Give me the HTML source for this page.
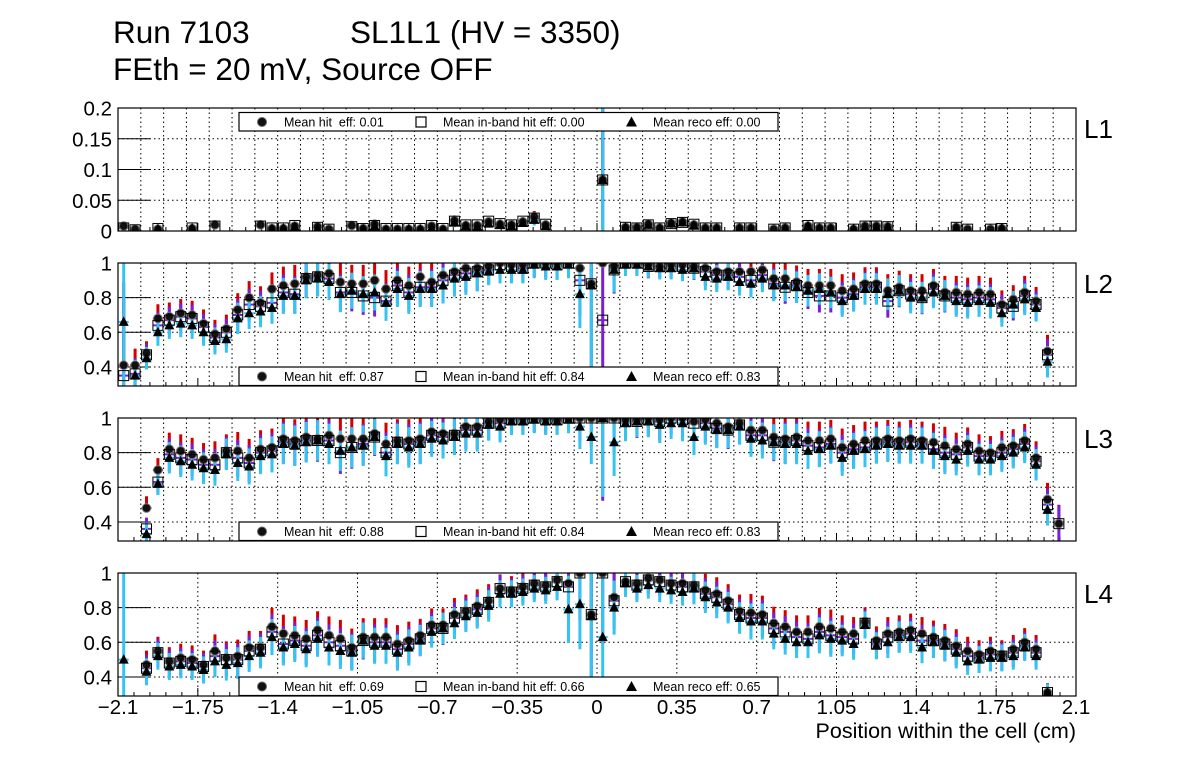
<!DOCTYPE html>
<html><head><meta charset="utf-8">
<style>
html,body{margin:0;padding:0;background:#fff;}
svg{display:block;font-family:"Liberation Sans",sans-serif;}
</style></head>
<body>
<svg id="chart" width="1196" height="772" viewBox="0 0 1196 772" xmlns="http://www.w3.org/2000/svg">
<text x="113" y="43" font-size="31.5">Run 7103</text>
<text x="350" y="43" font-size="31.5">SL1L1 (HV = 3350)</text>
<text x="113" y="80" font-size="31.5">FEth = 20 mV, Source OFF</text>
<text x="1076" y="738" font-size="21.5" text-anchor="end">Position within the cell (cm)</text>
</svg>
<script>
const xTickLabels=["\u22122.1","\u22121.75","\u22121.4","\u22121.05","\u22120.7","\u22120.35","0","0.35","0.7","1.05","1.4","1.75","2.1"];
const xTickValues=[-2.1,-1.75,-1.4,-1.05,-0.7,-0.35,0,0.35,0.7,1.05,1.4,1.75,2.1];
const binStart=-2.1, binWidth=0.05, nBins=84;
const panelNames=["L1","L2","L3","L4"];
const meanHit=["0.01","0.87","0.88","0.69"];
const meanBand=["0.00","0.84","0.84","0.66"];
const meanReco=["0.00","0.83","0.83","0.65"];
const yTicksL1=[0,0.05,0.1,0.15,0.2];
const yTickLabelsL1=["0","0.05","0.1","0.15","0.2"];
const yTicksL=[0.4,0.6,0.8,1];
const yTickLabelsL=["0.4","0.6","0.8","1"];
const N=null;
const l1Hit=[.008,.003,N,.003,N,N,.004,N,.01,N,N,N,.01,.004,.004,.008,N,.007,.003,N,.009,.004,.011,.003,.003,.003,.003,.008,.003,.017,.009,.009,.015,.011,.01,.015,.023,.01,N,N,N,N,.083,N,.006,.006,.011,.005,.013,.015,.01,.005,.005,N,.005,.005,N,.003,.005,N,.008,.005,.005,N,.003,.008,.008,.007,N,N,N,N,N,.006,.003,N,.003,.004,N,N,N,N,N,N];
const l1Band=[.005,.002,N,.004,N,N,.005,N,.008,N,N,N,.008,.005,.005,.009,N,.006,.003,N,.007,.004,.009,.004,.004,.004,.004,.009,.004,.016,.01,.01,.016,.012,.01,.016,.021,.011,N,N,N,N,.083,N,.006,.005,.01,.005,.012,.014,.011,.005,.005,N,.005,.005,N,.003,.005,N,.009,.005,.005,N,.003,.008,.008,.007,N,N,N,N,N,.006,.003,N,.003,.004,N,N,N,N,N,N];
const l1Reco=[N,N,N,.003,N,N,.004,N,N,N,N,N,N,.003,.004,.007,N,.004,N,N,N,.003,.008,.002,.002,.003,.003,.005,.002,.014,.008,.007,.012,.01,.008,.013,.018,.008,N,N,N,N,.083,N,.005,.004,.01,.004,.012,.014,.009,.004,.004,N,.004,.004,N,N,.004,N,.008,.004,.004,N,.003,.006,.006,.006,N,N,N,N,N,.005,N,N,N,.004,N,N,N,N,N,N];
const l1Err=[.004,.003,N,.003,N,N,.003,N,.004,N,N,N,.004,.003,.003,.004,N,.003,.003,N,.004,.003,.004,.003,.003,.003,.003,.004,.003,.006,.004,.004,.005,.004,.004,.005,.007,.004,N,N,N,N,.12,N,.003,.003,.004,.003,.005,.005,.004,.003,.003,N,.003,.003,N,.003,.003,N,.003,.003,.003,N,.003,.003,.003,.003,N,N,N,N,N,.003,.003,N,.003,.003,N,N,N,N,N,N];
const l2Hit=[.41,.41,.48,.68,.69,.71,.70,.65,.59,.62,.73,.80,.77,.85,.87,.88,.92,.93,.94,.89,.88,.88,.90,.85,.90,.87,.92,.89,.93,.95,.97,.97,.98,1,.99,.99,1,1,1,1,.97,.88,1,.98,1,1,.99,.98,.99,.99,.98,.97,.95,.95,.95,.95,.96,.91,.91,.89,.87,.87,.87,.84,.85,.88,.88,.84,.86,.84,.84,.87,.83,.83,.82,.83,.82,.76,.79,.83,.78,.49,N,N];
const l2Band=[.35,.36,.47,.64,.67,.69,.68,.63,.57,.60,.70,.76,.75,.77,.83,.82,.91,.92,.91,.83,.83,.81,.80,.78,.87,.83,.86,.86,.90,.93,.94,.95,.96,.99,.98,.97,1,1,.99,1,.90,.88,.67,.96,1,1,.98,.98,.98,.98,.97,.95,.93,.93,.92,.90,.93,.88,.86,.87,.83,.81,.81,.80,.82,.86,.86,.78,.84,.82,.80,.85,.81,.80,.79,.80,.79,.74,.75,.81,.76,.47,N,N];
const l2Reco=[.66,.35,.45,.60,.64,.65,.64,.60,.55,.56,.68,.71,.72,.74,.81,.81,.90,.91,.89,.82,.84,.82,.83,.77,.85,.81,.85,.85,.87,.91,.92,.94,.95,.96,.96,.96,.99,.98,.98,.99,.82,.87,N,.96,.99,.99,.98,.97,.97,.96,.97,.92,.91,.92,.89,.88,.91,.87,.87,.86,.84,.85,.83,.78,.81,.85,.85,.82,.84,.80,.80,.83,.81,.78,.77,.78,.77,.71,.76,.79,.74,.43,N,N];
const l2Err=[.35,.07,.05,.06,.06,.06,.06,.06,.06,.06,.07,.07,.07,.07,.08,.08,.08,.08,.08,.08,.08,.08,.08,.08,.08,.08,.08,.08,.08,.08,.08,.08,.06,.06,.06,.06,.06,.06,.06,.06,.15,.5,.3,.1,.05,.05,.05,.05,.05,.05,.05,.06,.06,.06,.06,.06,.06,.07,.07,.07,.07,.07,.07,.07,.07,.07,.07,.07,.07,.07,.07,.07,.07,.07,.07,.07,.07,.06,.06,.07,.06,.07,N,N];
const l3Hit=[N,N,.48,.70,.82,.81,.79,.76,.77,.81,.81,.77,.82,.83,.88,.87,.89,.88,.90,.88,.88,.88,.91,.85,.87,.87,.88,.92,.91,.91,.95,.95,.98,.99,1,1,1,1,.99,1,1,1,1,1,.99,.99,1,.99,1,1,.98,.99,.97,.95,.97,.93,.93,.89,.88,.89,.87,.87,.88,.83,.85,.87,.87,.88,.87,.88,.87,.86,.84,.82,.85,.81,.80,.83,.84,.87,.77,.53,.39,N];
const l3Band=[N,N,.36,.63,.79,.77,.76,.73,.73,.80,.77,.74,.80,.81,.86,.85,.87,.87,.87,.80,.83,.85,.89,.80,.86,.85,.86,.90,.89,.90,.93,.93,.97,.97,.99,.99,1,.99,.99,1,1,1,1,1,.98,.98,.99,.98,1,.99,.97,.97,.94,.93,.96,.90,.90,.86,.86,.87,.84,.83,.85,.80,.82,.83,.85,.86,.85,.86,.85,.82,.80,.79,.83,.78,.78,.80,.82,.85,.75,.50,.39,N];
const l3Reco=[N,N,.33,.62,.77,.75,.73,.71,.70,.79,.74,.72,.78,.79,.85,.84,.86,.87,.85,.81,.83,.84,.89,.78,.85,.83,.85,.88,.87,.89,.91,.91,.96,.95,.98,.98,.99,.98,.98,.99,.95,.89,1,.86,.97,.98,.98,.96,.97,.97,.89,.95,.93,.93,.95,.88,.87,.86,.85,.85,.81,.82,.84,.77,.81,.82,.84,.85,.84,.84,.84,.81,.78,.76,.81,.76,.76,.78,.80,.83,.73,.47,N,N];
const l3Err=[N,N,.05,.05,.07,.07,.07,.07,.07,.07,.08,.08,.08,.08,.09,.09,.09,.09,.09,.09,.09,.09,.08,.09,.09,.09,.09,.08,.08,.08,.08,.08,.07,.07,.06,.06,.06,.06,.06,.06,.1,.12,.35,.15,.08,.07,.07,.08,.07,.08,.08,.08,.08,.08,.08,.08,.08,.08,.09,.09,.08,.08,.08,.08,.08,.08,.08,.08,.08,.08,.08,.08,.08,.07,.07,.07,.07,.07,.07,.07,.07,.07,.08,N];
const l4Hit=[N,N,.47,.55,.49,.51,.50,.47,.55,.51,.52,.57,.57,.69,.65,.64,.62,.67,.64,.62,.57,.63,.63,.63,.59,.61,.64,.70,.70,.76,.78,.81,.84,.91,.90,.92,.94,.93,.96,.94,1,.76,1,.86,.95,.94,.97,.96,.94,.94,.93,.90,.88,.84,.78,.77,.76,.71,.69,.66,.66,.69,.68,.66,.65,.72,.61,.65,.66,.67,.65,.63,.61,.58,.55,.53,.55,.53,.56,.60,.56,.31,N,N];
const l4Band=[N,N,.45,.54,.48,.49,.48,.46,.52,.50,.50,.55,.56,.66,.59,.61,.58,.64,.60,.58,.55,.61,.60,.60,.56,.59,.62,.68,.68,.74,.77,.79,.83,.91,.89,.91,.93,.92,.95,.92,1,.76,1,.84,.95,.93,.96,.95,.93,.92,.92,.88,.86,.82,.76,.74,.74,.68,.66,.63,.62,.66,.64,.63,.62,.71,.59,.63,.64,.65,.61,.61,.59,.56,.52,.51,.53,.52,.54,.58,.54,.31,N,N];
const l4Reco=[.50,N,.43,.52,.46,.47,.46,.44,.49,.47,.48,.52,.54,.63,.57,.59,.56,.62,.57,.55,.54,.61,.58,.58,.54,.57,.61,.66,.68,.71,.75,.77,.81,.88,.88,.89,.91,.90,.92,.79,.82,.75,.63,.80,.94,.91,.93,.91,.90,.89,.91,.86,.83,.80,.74,.72,.72,.65,.62,.60,.60,.64,.62,.61,.59,.70,.58,.60,.63,.63,.57,.60,.58,.54,.49,.50,.51,.51,.52,.57,.52,.31,N,N];
const l4Err=[.4,N,.06,.06,.06,.06,.06,.06,.07,.07,.07,.07,.07,.08,.08,.08,.08,.08,.08,.08,.08,.08,.08,.08,.08,.08,.07,.07,.07,.07,.07,.07,.07,.06,.06,.06,.06,.06,.06,.15,.2,.4,.3,.12,.06,.06,.06,.06,.06,.06,.07,.07,.07,.07,.07,.08,.08,.07,.07,.07,.07,.08,.08,.07,.07,.06,.06,.07,.07,.07,.07,.07,.07,.07,.06,.06,.06,.06,.06,.06,.06,.04,N,N];

const NS="http://www.w3.org/2000/svg";
const svg=document.getElementById('chart');
const X0=118,X1=1076;
function xs(v){return X0+(v-binStart)/(2.1-binStart)*(X1-X0);}
function mk(tag,attrs,parent){const e=document.createElementNS(NS,tag);for(const k in attrs)e.setAttribute(k,attrs[k]);(parent||svg).appendChild(e);return e;}
const defs=mk('defs',{});
const panels=[
 {top:108,min:0,max:0.2,hit:l1Hit,band:l1Band,reco:l1Reco,err:l1Err,ticks:yTicksL1,labels:yTickLabelsL1,legTop:true,fineGrid:true},
 {top:263,min:0.29,max:1.0,hit:l2Hit,band:l2Band,reco:l2Reco,err:l2Err,ticks:yTicksL,labels:yTickLabelsL,legTop:false,fineGrid:true},
 {top:418,min:0.29,max:1.0,hit:l3Hit,band:l3Band,reco:l3Reco,err:l3Err,ticks:yTicksL,labels:yTickLabelsL,legTop:false,fineGrid:true},
 {top:573,min:0.29,max:1.0,hit:l4Hit,band:l4Band,reco:l4Reco,err:l4Err,ticks:yTicksL,labels:yTickLabelsL,legTop:false,fineGrid:false}
];
const H=123;
const ES=1.3;
panels.forEach((p,pi)=>{
  const g=mk('g',{});
  
  
  const ys=v=>p.top+H-(v-p.min)/(p.max-p.min)*H;
  const cp=mk('clipPath',{id:'clip'+pi},defs);
  mk('rect',{x:X0,y:p.top,width:X1-X0,height:H},cp);
  const grid=mk('g',{stroke:'#000','stroke-width':1,'stroke-dasharray':'1.5,3'},g);
  
  
  if(p.fineGrid){for(let k=1;k<42;k++){const x=xs(-2.1+k*0.1);mk('line',{x1:x,x2:x,y1:p.top,y2:p.top+H},grid);}}
  else{xTickValues.slice(1,-1).forEach(v=>{mk('line',{x1:xs(v),x2:xs(v),y1:p.top,y2:p.top+H},grid);});}
  p.ticks.forEach(v=>{const y=ys(v);if(y>p.top+1&&y<p.top+H-1)mk('line',{x1:X0,x2:X1,y1:y,y2:y},grid);});
  p.ticks.forEach((v,k)=>{const y=ys(v);
    mk('line',{x1:X0,x2:X0+32,y1:y,y2:y,stroke:'#000','stroke-width':1},g);
    const t=mk('text',{x:112,y:y+7.5,'font-size':20.5,'text-anchor':'end'},g);t.textContent=p.labels[k];
    
    });
  for(let k=0;k<=60;k++){const x=xs(-2.1+k*0.07);const L=(k%5===0)?8:4;
    mk('line',{x1:x,x2:x,y1:p.top+H,y2:p.top+H-L,stroke:'#000','stroke-width':1},g);}
  const dg=mk('g',{'clip-path':'url(#clip'+pi+')'},g);
  const hw=5;
  for(let i=0;i<nBins;i++){
    const x=xs(binStart+binWidth*(i+0.5));const e=p.err[i]*ES;
    if(p.hit[i]!==null){mk('line',{x1:x,x2:x,y1:ys(p.hit[i]),y2:ys(p.hit[i]+e*1.05),stroke:'#d40000','stroke-width':3},dg);
      mk('line',{x1:x-hw,x2:x+hw,y1:ys(p.hit[i]),y2:ys(p.hit[i]),stroke:'#d40000','stroke-width':2},dg);}
    if(p.band[i]!==null){mk('line',{x1:x,x2:x,y1:ys(p.band[i]-e*1.05),y2:ys(p.band[i]+e*1.0),stroke:'#7a1fd6','stroke-width':3},dg);
      mk('line',{x1:x-hw,x2:x+hw,y1:ys(p.band[i]),y2:ys(p.band[i]),stroke:'#7a1fd6','stroke-width':2},dg);}
    if(p.reco[i]!==null){mk('line',{x1:x,x2:x,y1:ys(p.reco[i]-e),y2:ys(p.reco[i]+e),stroke:'#33c4f2','stroke-width':3},dg);
      mk('line',{x1:x-hw,x2:x+hw,y1:ys(p.reco[i]),y2:ys(p.reco[i]),stroke:'#33c4f2','stroke-width':2},dg);}
  }
  for(let i=0;i<nBins;i++){
    const x=xs(binStart+binWidth*(i+0.5));
    if(p.hit[i]!==null){const c=mk('circle',{cx:x,cy:ys(p.hit[i]),r:4.3,fill:'#111',stroke:'#777','stroke-width':1},dg);
      
      }
    if(p.band[i]!==null){const s=mk('rect',{x:x-5,y:ys(p.band[i])-5,width:10,height:10,fill:'none',stroke:'#000','stroke-width':1},dg);
      
      }
    if(p.reco[i]!==null){const y=ys(p.reco[i]);const t=mk('polygon',{points:(x-5)+','+(y+4)+' '+(x+5)+','+(y+4)+' '+x+','+(y-5.5),fill:'#000'},dg);
      
      }
  }
  const fr=mk('rect',{x:X0,y:p.top,width:X1-X0,height:H,fill:'none',stroke:'#000','stroke-width':1.2},g);
  
  
  const ly=p.legTop?p.top+4.5:p.top+H-19;
  const lg=mk('g',{},g);
  
  
  mk('rect',{x:239,y:ly,width:539,height:18.5,fill:'#fff',stroke:'#000','stroke-width':1.2},lg);
  const cy=ly+9.5;
  mk('circle',{cx:262,cy:cy,r:4.5,fill:'#111',stroke:'#666','stroke-width':1},lg);
  mk('rect',{x:416,y:cy-5,width:10,height:10,fill:'none',stroke:'#000','stroke-width':1.2},lg);
  mk('polygon',{points:'626,'+(cy+4.5)+' 637,'+(cy+4.5)+' 631.5,'+(cy-5.5),fill:'#000'},lg);
  const t1=mk('text',{x:284,y:cy+4.5,'font-size':12.5},lg);t1.textContent='Mean hit  eff: '+meanHit[pi];t1.style.whiteSpace='pre';
  const t2=mk('text',{x:443,y:cy+4.5,'font-size':12.5},lg);t2.textContent='Mean in-band hit eff: '+meanBand[pi];
  const t3=mk('text',{x:653,y:cy+4.5,'font-size':12.5},lg);t3.textContent='Mean reco eff: '+meanReco[pi];
  const pl=mk('text',{x:1084,y:p.top+30,'font-size':26},g);pl.textContent=panelNames[pi];
  
  
});
xTickValues.forEach((v,k)=>{const t=mk('text',{x:xs(v),y:714,'font-size':20.5,'text-anchor':'middle'});t.textContent=xTickLabels[k];
  
  });
</script>
</body></html>
